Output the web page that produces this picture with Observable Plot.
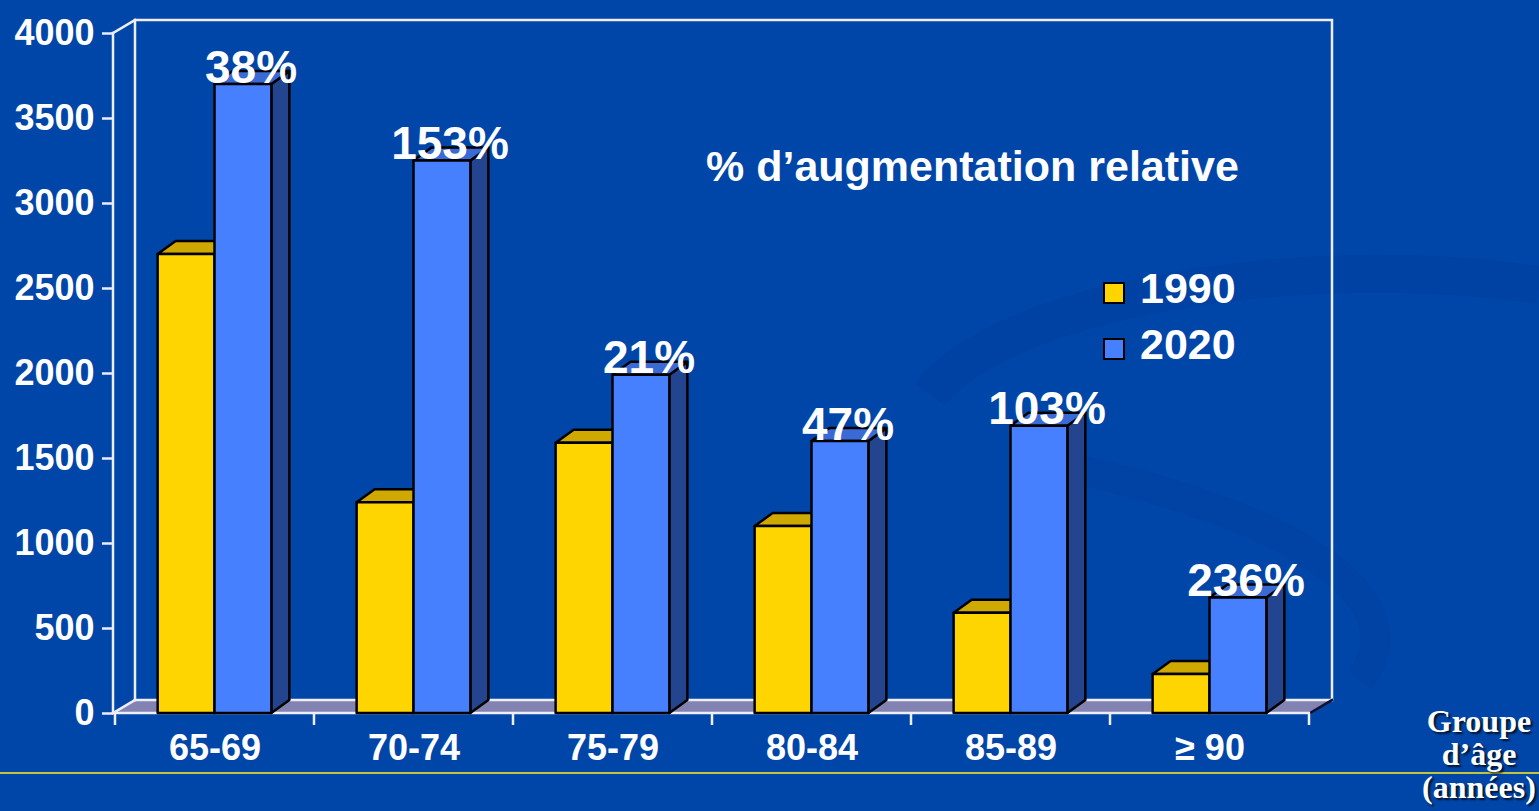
<!DOCTYPE html>
<html>
<head>
<meta charset="utf-8">
<script src="https://cdn.jsdelivr.net/npm/d3@7"></script>
<script src="https://cdn.jsdelivr.net/npm/@observablehq/plot@0.6"></script>
<style>
  html, body { margin: 0; padding: 0; background: #0046a8; }
  #wrap { position: relative; width: 1539px; height: 811px; overflow: hidden; background: #0046a8; }
  #chart { position: absolute; left: 0; top: 0; }
  .ov { position: absolute; color: #fff; font-family: "Liberation Sans", Arial, sans-serif; font-weight: bold; white-space: nowrap; line-height: 1; }
  .sw { position: absolute; box-sizing: border-box; width: 22px; height: 22px; border: 2px solid #000; }
  #axisTitle { position: absolute; left: 1379px; top: 705px; width: 200px; text-align: center; color: #fff;
    font-family: "Liberation Serif", "DejaVu Serif", serif; font-weight: bold; font-size: 32px; line-height: 33px;
    text-shadow: 2px 2px 2px rgba(0,0,0,0.75); }
  #rule { position: absolute; left: 0; top: 772px; width: 1539px; height: 2px; background: #c4c43a; }
  #deco { position: absolute; left: 0; top: 0; }
</style>
</head>
<body>
<div id="wrap">
  <svg id="deco" width="1539" height="811">
    <path d="M 930 395 C 1000 300, 1300 250, 1539 285" fill="none" stroke="#0040a0" stroke-width="38" opacity="0.55"/>
    <path d="M 1080 470 C 1300 520, 1420 600, 1360 680" fill="none" stroke="#0040a0" stroke-width="30" opacity="0.5"/>
  </svg>
  <div id="rule"></div>
  <div id="chart"></div>
  <div class="ov" style="left:706px; top:145px; font-size:43px;">% d’augmentation relative</div>
  <div class="sw" style="left:1103px; top:282px; background:#ffd500;"></div>
  <div class="ov" style="left:1140px; top:267px; font-size:43px;">1990</div>
  <div class="sw" style="left:1103px; top:338px; background:#4680ff;"></div>
  <div class="ov" style="left:1140px; top:323px; font-size:43px;">2020</div>
  <div id="axisTitle">Groupe<br>d’âge<br>(années)</div>
</div>
<script>
// ---- data ----
const groups = ["65-69", "70-74", "75-79", "80-84", "85-89", "≥ 90"];
const years = ["1990", "2020"];
const values1990 = [2700, 1240, 1590, 1100, 590, 230];
const values2020 = [3700, 3250, 1990, 1600, 1690, 680];
const increaseLabels = ["38%", "153%", "21%", "47%", "103%", "236%"];
const yTicks = [0, 500, 1000, 1500, 2000, 2500, 3000, 3500, 4000];

// ---- styles ----
const faceColors = {
  "1990": {front: "#ffd500", top: "#cfa800", side: "#a08400"},
  "2020": {front: "#4680ff", top: "#3a6ad6", side: "#23448f"}
};
const barDepth = {dx: 18, dy: -13};
const wallDepth = {dx: 22, dy: -13};
const lineColor = "#eeeef8";

const bars = groups.flatMap((g, i) => [
  {group: g, year: years[0], value: values1990[i]},
  {group: g, year: years[1], value: values2020[i]}
]);
const labels = groups.map((g, i) => ({group: g, value: values2020[i], text: increaseLabels[i]}));

function bw(x) {
  if (x.bandwidth) return x.bandwidth();
  const r = x.range();
  return Math.abs(r[1] - r[0]) / groups.length;
}

function frame3D(index, scales, values, dimensions) {
  const {width, marginLeft, marginRight} = dimensions;
  const xl = marginLeft, xr = width - marginRight;
  const yb = scales.y(0), yt = scales.y(d3.max(yTicks));
  const {dx, dy} = wallDepth;
  const g = d3.create("svg:g").attr("fill", "none").attr("stroke-linecap", "square");
  g.append("polygon")
    .attr("points", [[xl, yb], [xr, yb], [xr + dx, yb + dy], [xl + dx, yb + dy]].map(p => p.join(",")).join(" "))
    .attr("fill", "#8383b3").attr("stroke", "none");
  g.append("path")
    .attr("d", `M${xl + dx},${yb + dy}V${yt + dy}H${xr + dx}V${yb + dy}`)
    .attr("stroke", lineColor).attr("stroke-width", 2.5);
  g.append("path").attr("d", `M${xl + dx},${yb + dy}H${xr + dx}`).attr("stroke", lineColor).attr("stroke-width", 2.5);
  g.append("path").attr("d", `M${xl},${yt}L${xl + dx},${yt + dy}`).attr("stroke", lineColor).attr("stroke-width", 2.5);
  g.append("path").attr("d", `M${xl},${yb}L${xl + dx},${yb + dy}`).attr("stroke", lineColor).attr("stroke-width", 2.5);
  g.append("path").attr("d", `M${xr},${yb}L${xr + dx},${yb + dy}`).attr("stroke", "#101030").attr("stroke-width", 2.5);
  g.append("path").attr("d", `M${xl},${yt}V${yb}`).attr("stroke", lineColor).attr("stroke-width", 2.5);
  return g.node();
}

function frontEdges(index, scales, values, dimensions) {
  const {width, marginLeft, marginRight} = dimensions;
  const xl = marginLeft, xr = width - marginRight;
  const yb = scales.y(0);
  const g = d3.create("svg:g").attr("fill", "none").attr("stroke", lineColor).attr("stroke-width", 2.5);
  g.append("path").attr("d", `M${xl},${yb}H${xr}`);
  const bounds = groups.map(k => scales.x(k)).concat([scales.x(groups[groups.length - 1]) + bw(scales.x)]);
  for (const bx of bounds) g.append("path").attr("d", `M${bx},${yb}V${yb + 12}`);
  return g.node();
}

function bars3D(index, scales, values, dimensions) {
  const g = d3.create("svg:g").attr("stroke", "#000").attr("stroke-width", 2.5).attr("stroke-linejoin", "round");
  const sub = d3.scaleBand(years, [0, bw(scales.x)]).paddingInner(0).paddingOuter(0.75);
  const y0 = scales.y(0);
  const {dx, dy} = barDepth;
  const pts = a => a.map(p => p.join(",")).join(" ");
  for (const i of index) {
    const d = bars[i];
    const c = faceColors[d.year];
    const x0 = scales.x(d.group) + sub(d.year), x1 = x0 + sub.bandwidth();
    const yt = scales.y(d.value);
    g.append("polygon").attr("points", pts([[x1, yt], [x1 + dx, yt + dy], [x1 + dx, y0 + dy], [x1, y0]])).attr("fill", c.side);
    g.append("polygon").attr("points", pts([[x0, yt], [x1, yt], [x1 + dx, yt + dy], [x0 + dx, yt + dy]])).attr("fill", c.top);
    g.append("rect").attr("x", x0).attr("y", yt).attr("width", x1 - x0).attr("height", y0 - yt).attr("fill", c.front);
  }
  return g.node();
}

const chart = Plot.plot({
  width: 1539,
  height: 811,
  marginLeft: 113,
  marginRight: 229,
  marginTop: 33,
  marginBottom: 98,
  style: {background: "transparent", color: "white", fontFamily: "'Liberation Sans', Arial, sans-serif", overflow: "visible"},
  x: {type: "band", domain: groups, padding: 0, label: null},
  y: {domain: [0, d3.max(yTicks)], label: null},
  marks: [
    Plot.ruleY([0], {render: frame3D}),
    Plot.axisY({ticks: yTicks, tickFormat: d => String(d), tickSize: 11, tickPadding: 8, fontSize: 36, fontWeight: "bold", stroke: lineColor, fill: "white", strokeWidth: 2.5, label: null}),
    Plot.axisX({tickSize: 0, tickPadding: 21, fontSize: 36, fontWeight: "bold", fill: "white", label: null}),
    Plot.ruleY([0], {render: frontEdges}),
    Plot.barY(bars, {x: "group", y: "value", render: bars3D}),
    Plot.text(labels, {x: "group", y: "value", text: "text", dx: 36, dy: -2, lineAnchor: "bottom", fontSize: 46, fontWeight: "bold", fill: "white"})
  ]
});
document.getElementById("chart").appendChild(chart);
</script>
</body>
</html>
